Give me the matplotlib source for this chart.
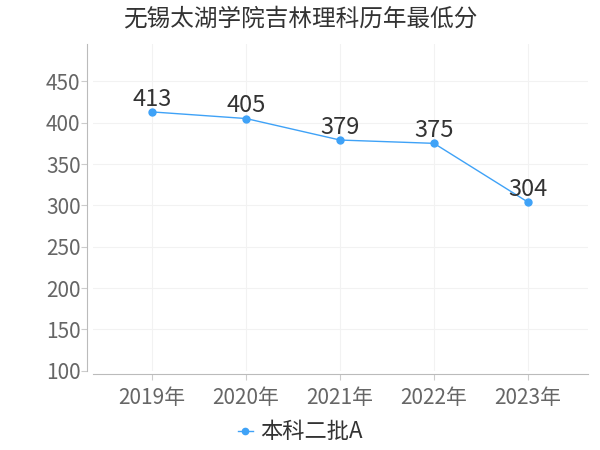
import matplotlib
matplotlib.use("Agg")
from matplotlib import pyplot as plt

plt.rcParams['font.family'] = ['Noto Sans CJK SC', 'DejaVu Sans']

years = ["2019年", "2020年", "2021年", "2022年", "2023年"]
scores = [413, 405, 379, 375, 304]
series_name = "本科二批A"
title = "无锡太湖学院吉林理科历年最低分"
y_ticks = [100, 150, 200, 250, 300, 350, 400, 450]

line_color = "#3fa2f7"

fig = plt.figure(figsize=(6, 4.5), dpi=100)
ax = fig.add_axes([0.155, 0.176, 0.825, 0.726])

x = list(range(len(years)))
ax.plot(x, scores, color=line_color, linewidth=1, marker="o", markersize=5,
        label=series_name)
for xi, v in zip(x, scores):
    ax.annotate(str(v), (xi, v), xytext=(0, 1), textcoords="offset points",
                ha="center", va="bottom", fontsize=17, color="#333333")

ax.set_xlim(-0.63, len(years) - 1 + 0.64)
ax.set_ylim(100, 495)
ax.set_xticks(x)
ax.set_xticklabels(years)
ax.set_yticks(y_ticks)
ax.tick_params(axis="both", length=4, width=0.8)
ax.tick_params(axis="x", labelsize=15, pad=6, colors="#cccccc", labelcolor="#666666")
ax.tick_params(axis="y", labelsize=15, pad=1, colors="#cccccc", labelcolor="#666666")

ax.grid(True, color="#f2f2f2", linewidth=0.8)
ax.set_axisbelow(True)
for side in ["top", "right"]:
    ax.spines[side].set_visible(False)
ax.spines["left"].set_color("#bbbbbb")
ax.spines["bottom"].set_color("#bbbbbb")
ax.spines["left"].set_position(("outward", 4))
ax.spines["bottom"].set_position(("outward", 2))

fig.text(0.5, 0.958, title, ha="center", va="center", fontsize=17, color="#333333")

leg = fig.legend(loc="center", bbox_to_anchor=(0.5, 0.04), frameon=False,
                 fontsize=16, handlelength=0.7, handletextpad=0.3, markerscale=0.9)
for t in leg.get_texts():
    t.set_color("#333333")

fig.savefig("out.png", dpi=100)
